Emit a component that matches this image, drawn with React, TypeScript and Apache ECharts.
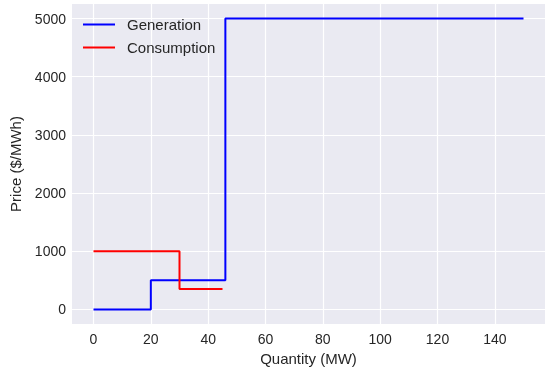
import React, { useEffect, useRef } from "react";
import * as echarts from "echarts";

const generation: [number, number][] = [
  [0, 0],
  [20, 500],
  [46, 5000],
  [150, 5000],
];
const consumption: [number, number][] = [
  [0, 1000],
  [30, 350],
  [45, 350],
];
const xTicks = [0, 20, 40, 60, 80, 100, 120, 140];
const yTicks = [0, 1000, 2000, 3000, 4000, 5000];

const FONT = "Liberation Sans, Arial, sans-serif";
const TXT = "#262626";

export default function App() {
  const ref = useRef<HTMLDivElement>(null);
  useEffect(() => {
    const chart = echarts.init(ref.current!, null, { renderer: "svg" });
    chart.setOption({
      animation: false,
      textStyle: { fontFamily: FONT },
      grid: {
        left: 71,
        top: 4,
        width: 475,
        height: 320,
        show: true,
        backgroundColor: "#EAEAF2",
        borderWidth: 0,
      },
      legend: {
        orient: "vertical",
        left: 78,
        top: 12,
        icon: "rect",
        itemWidth: 32,
        itemHeight: 2,
        itemGap: 8,
        textStyle: {
          fontSize: 15,
          lineHeight: 15,
          color: TXT,
          fontFamily: FONT,
          padding: [0, 0, 0, 7],
        },
        data: ["Generation", "Consumption"],
      },
      xAxis: {
        type: "value",
        min: -7.5,
        max: 157.5,
        name: "Quantity (MW)",
        nameLocation: "middle",
        nameGap: 25,
        nameTextStyle: { fontSize: 15, color: TXT, fontFamily: FONT },
        axisLine: { show: false },
        axisTick: { show: false, customValues: xTicks },
        axisLabel: {
          customValues: xTicks,
          fontSize: 14,
          color: TXT,
          margin: 8,
          fontFamily: FONT,
        },
        splitLine: { show: true, lineStyle: { color: "#FFFFFF", width: 1.2 } },
      },
      yAxis: {
        type: "value",
        min: -250,
        max: 5250,
        name: "Price ($/MWh)",
        nameLocation: "middle",
        nameGap: 49,
        nameTextStyle: { fontSize: 15, color: TXT, fontFamily: FONT },
        axisLine: { show: false },
        axisTick: { show: false, customValues: yTicks },
        axisLabel: {
          customValues: yTicks,
          formatter: (v: number) => String(v),
          fontSize: 14,
          color: TXT,
          margin: 6,
          fontFamily: FONT,
        },
        splitLine: { show: true, lineStyle: { color: "#FFFFFF", width: 1.2 } },
      },
      series: [
        {
          name: "Generation",
          type: "line",
          step: "end",
          symbol: "none",
          data: generation,
          lineStyle: { color: "#0000FF", width: 2 },
          itemStyle: { color: "#0000FF" },
        },
        {
          name: "Consumption",
          type: "line",
          step: "end",
          symbol: "none",
          data: consumption,
          lineStyle: { color: "#FF0000", width: 2 },
          itemStyle: { color: "#FF0000" },
        },
      ],
    });
    return () => chart.dispose();
  }, []);
  return (
    <div
      ref={ref}
      style={{ position: "fixed", left: 0, top: 0, width: 545, height: 372 }}
    />
  );
}
